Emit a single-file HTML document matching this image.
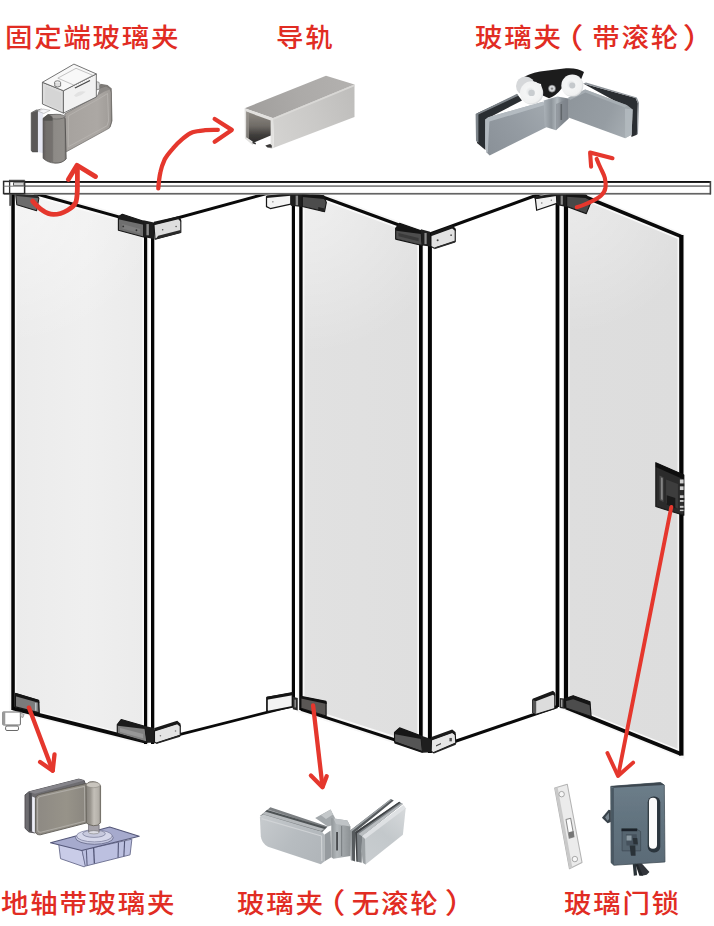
<!DOCTYPE html>
<html lang="zh-CN">
<head>
<meta charset="utf-8">
<title>折叠玻璃门五金配件示意图</title>
<style>
html,body{margin:0;padding:0;background:#fff;}
body{width:714px;height:926px;overflow:hidden;position:relative;font-family:"Liberation Sans","Noto Sans CJK SC",sans-serif;}
svg{position:absolute;left:0;top:0;display:block;}
.lbl{font-family:"Liberation Sans","Noto Sans CJK SC",sans-serif;font-weight:500;font-size:27.5px;letter-spacing:1.7px;fill:#e12c23;}
</style>
</head>
<body>
<svg width="714" height="926" viewBox="0 0 714 926">
<defs>
<linearGradient id="gp1" x1="0" y1="0" x2="1" y2="0"><stop offset="0" stop-color="#ebebeb"/><stop offset="0.55" stop-color="#efefef"/><stop offset="1" stop-color="#ebebeb"/></linearGradient>
<linearGradient id="gp3" x1="0" y1="0" x2="1" y2="0"><stop offset="0" stop-color="#e1e1e1"/><stop offset="1" stop-color="#dfdfdf"/></linearGradient>
<linearGradient id="gp5" x1="0" y1="0" x2="1" y2="0"><stop offset="0" stop-color="#dedede"/><stop offset="1" stop-color="#dddddd"/></linearGradient>
<radialGradient id="gt1" gradientUnits="userSpaceOnUse" cx="13" cy="195" r="150"><stop offset="0" stop-color="#fff" stop-opacity="0.5"/><stop offset="1" stop-color="#fff" stop-opacity="0"/></radialGradient><radialGradient id="gt3" gradientUnits="userSpaceOnUse" cx="301" cy="195" r="160"><stop offset="0" stop-color="#fff" stop-opacity="0.5"/><stop offset="1" stop-color="#fff" stop-opacity="0"/></radialGradient><radialGradient id="gt5" gradientUnits="userSpaceOnUse" cx="566" cy="195" r="140"><stop offset="0" stop-color="#fff" stop-opacity="0.4"/><stop offset="1" stop-color="#fff" stop-opacity="0"/></radialGradient>
<filter id="b1" x="-5%" y="-5%" width="110%" height="110%"><feGaussianBlur stdDeviation="0.5"/></filter>
<filter id="b2" x="-5%" y="-5%" width="110%" height="110%"><feGaussianBlur stdDeviation="0.8"/></filter>
<filter id="pb" x="-5%" y="-5%" width="110%" height="110%"><feGaussianBlur stdDeviation="0.45"/></filter>
</defs>

<!-- ===== DOOR PANELS ===== -->
<g id="door">
<!-- glass fills -->
<polygon points="12.9,187.5 145.6,224.4 145.6,741.7 12.9,708.3" fill="url(#gp1)" stroke="#f7f7f7" stroke-width="7" stroke-linejoin="miter"/>
<polygon points="12.9,187.5 145.6,224.4 145.6,741.7 12.9,708.3" fill="url(#gt1)"/>
<polygon points="300.9,189 420.8,233 420.8,748.2 300.9,709.4" fill="url(#gp3)" stroke="#f7f7f7" stroke-width="7" stroke-linejoin="miter"/>
<polygon points="300.9,189 420.8,233 420.8,748.2 300.9,709.4" fill="url(#gt3)"/>
<polygon points="566,189 681,236.4 681,754 566,707.5" fill="url(#gp5)" stroke="#f7f7f7" stroke-width="7" stroke-linejoin="miter"/>
<polygon points="566,189 681,236.4 681,754 566,707.5" fill="url(#gt5)"/>
<!-- track cover (white) so panel tops hide behind it -->
<rect x="0" y="176" width="714" height="17.5" fill="#fff"/>
<!-- slanted top / bottom edges -->
<g stroke="#0a0a0a" stroke-width="3" fill="none" stroke-linecap="butt">
<line x1="34" y1="193.3" x2="145.6" y2="224.4"/>
<line x1="12.9" y1="708.3" x2="145.6" y2="741.7" stroke-width="3.9"/>
<line x1="152.6" y1="224.7" x2="293.4" y2="186.3"/>
<line x1="152.6" y1="741.3" x2="293.4" y2="705.7" stroke-width="2.8"/>
<line x1="300.9" y1="189" x2="420.8" y2="233"/>
<line x1="300.9" y1="709.4" x2="420.8" y2="748.2"/>
<line x1="429.9" y1="234" x2="557.5" y2="187.5"/>
<line x1="429.9" y1="750" x2="557.5" y2="706.5"/>
<line x1="566" y1="189" x2="681" y2="236.4" stroke-width="3.6"/>
<line x1="566" y1="707.5" x2="681" y2="754" stroke-width="3.8"/>
</g>
<!-- track cover again over lines -->
<rect x="0" y="176" width="714" height="18.6" fill="#fff"/>
<!-- vertical edges -->
<g fill="#050505">
<rect x="11.3" y="194" width="3.5" height="516"/>
<rect x="144" y="221" width="3.2" height="523"/>
<rect x="151" y="223" width="3.3" height="521"/>
<rect x="291.8" y="194" width="3.2" height="511"/>
<rect x="299.2" y="194" width="3.4" height="516"/>
<rect x="419" y="232" width="3.7" height="517"/>
<rect x="427.9" y="233" width="4" height="520"/>
<rect x="555.6" y="194" width="3.8" height="513"/>
<rect x="563.9" y="194" width="4.2" height="514.5"/>
<rect x="679.2" y="235" width="4.3" height="520.6"/>
</g>
</g>

<!-- ===== HINGES / CLAMPS ===== -->
<g id="hinges" stroke-linejoin="round">
<!-- a: top-left fixed clamp -->
<g transform="translate(0,172) scale(0.11204)">
<rect x="84" y="190" width="12" height="112" fill="#2a2a2a"/>
<polygon points="140,200 335,212 347,235 327,345 150,292" fill="#6c6c6c" stroke="#1a1a1a" stroke-width="9"/>
<polygon points="140,200 335,212 347,235 150,215" fill="#2a2a2a"/>
</g>
<!-- b: top hinge panels 1/2 -->
<g transform="translate(110,200) scale(0.11204)">
<polygon points="75,150 110,128 300,190 300,330 75,270" fill="#6f6f6f" stroke="#161616" stroke-width="10"/>
<polygon points="75,150 110,128 300,190 300,222 75,172" fill="#1c1c1c"/>
<polygon points="110,215 270,258 270,300 110,255" fill="#7d7d7d"/>
<circle cx="118" cy="236" r="8" fill="#333"/><circle cx="236" cy="270" r="8" fill="#333"/>
<polygon points="298,180 392,200 392,348 298,330" fill="#1e1e1e"/>
<rect x="325" y="215" width="22" height="100" fill="#8a8a8a"/>
<polygon points="392,215 610,160 632,185 632,290 402,350" fill="#dedede" stroke="#161616" stroke-width="10"/>
<polygon points="392,195 610,146 634,172 634,196 610,172 392,226" fill="#1a1a1a"/>
<polygon points="430,320 630,268 632,292 404,352" fill="#2a2a2a"/>
<circle cx="470" cy="266" r="7" fill="#555"/><circle cx="590" cy="236" r="7" fill="#555"/>
</g>
<!-- c: top hinge panels 2/3 -->
<g transform="translate(260,180) scale(0.11204)">
<polygon points="58,148 275,125 275,215 92,255 58,238" fill="#f4f4f4" stroke="#161616" stroke-width="11"/>
<polygon points="58,138 275,118 275,140 58,160" fill="#1c1c1c"/>
<circle cx="115" cy="195" r="6" fill="#555"/>
<polygon points="275,122 378,126 378,242 275,230" fill="#1e1e1e"/>
<rect x="318" y="140" width="22" height="85" fill="#8a8a8a"/>
<polygon points="378,130 570,142 592,200 576,282 378,236" fill="#4c4c4c" stroke="#161616" stroke-width="10"/>
<polygon points="378,128 570,140 592,200 572,170 378,152" fill="#151515"/>
<polygon points="520,240 575,255 572,285 520,270" fill="#222"/>
</g>
<!-- d: top hinge panels 3/4 -->
<g transform="translate(385,215) scale(0.11204)">
<polygon points="95,120 130,75 322,140 332,272 95,215" fill="#4e4e4e" stroke="#141414" stroke-width="10"/>
<polygon points="95,120 130,75 322,140 322,170 100,140" fill="#151515"/>
<polygon points="120,160 300,205 300,235 120,190" fill="#3a3a3a"/>
<polygon points="320,128 402,150 402,282 332,272" fill="#1e1e1e"/>
<rect x="352" y="160" width="20" height="100" fill="#8a8a8a"/>
<polygon points="410,178 600,108 627,132 627,236 440,297 410,280" fill="#e2e2e2" stroke="#141414" stroke-width="10"/>
<polygon points="410,160 600,92 630,120 630,146 600,120 410,190" fill="#181818"/>
<polygon points="455,285 627,228 627,246 440,305" fill="#2a2a2a"/>
<circle cx="470" cy="225" r="9" fill="#444"/><circle cx="590" cy="180" r="8" fill="#555"/>
</g>
<!-- e: top hinge panels 4/5 -->
<g transform="translate(525,180) scale(0.11204)">
<polygon points="92,165 280,128 285,208 104,270" fill="#f0f0f0" stroke="#141414" stroke-width="11"/>
<polygon points="70,150 280,118 280,142 92,172" fill="#1c1c1c"/>
<circle cx="150" cy="205" r="6" fill="#666"/><circle cx="235" cy="180" r="6" fill="#666"/>
<polygon points="280,122 372,124 372,242 286,226" fill="#1e1e1e"/>
<rect x="318" y="140" width="20" height="80" fill="#8a8a8a"/>
<polygon points="372,128 545,134 592,190 547,300 372,236" fill="#484848" stroke="#141414" stroke-width="10"/>
<polygon points="372,126 545,132 592,190 540,160 372,150" fill="#151515"/>
</g>

<!-- a': bottom-left clamp + floor pivot -->
<g transform="translate(0,685) scale(0.11204)">
<polygon points="137,78 345,140 350,250 137,196" fill="#7b7b7b" stroke="#141414" stroke-width="12"/>
<polygon points="137,70 345,132 352,160 137,100" fill="#151515"/>
<rect x="312" y="160" width="14" height="70" fill="#b8c0c4"/>
<rect x="25" y="240" width="157" height="116" rx="8" fill="#fff" stroke="#6a6a6a" stroke-width="9"/>
<rect x="25" y="240" width="22" height="116" fill="#9a9a9a"/>
<rect x="50" y="366" width="115" height="40" rx="12" fill="#fff" stroke="#555" stroke-width="8"/>
<polygon points="182,250 215,262 205,290 182,282" fill="#ccc" stroke="#777" stroke-width="5"/>
</g>
<!-- b': bottom hinge panels 1/2 -->
<g transform="translate(110,705) scale(0.11204)">
<polygon points="65,175 100,130 310,190 330,335 65,255" fill="#808080" stroke="#141414" stroke-width="10"/>
<polygon points="65,175 100,130 310,190 312,215 70,186" fill="#1a1a1a"/>
<polygon points="90,205 295,258 295,296 90,242" fill="#979797"/>
<polygon points="65,250 330,325 330,342 65,268" fill="#161616"/>
<polygon points="308,188 397,205 397,338 330,338" fill="#1e1e1e"/>
<polygon points="397,228 600,162 627,186 627,270 412,340 397,330" fill="#e4e4e4" stroke="#141414" stroke-width="10"/>
<polygon points="397,205 600,140 630,168 630,196 600,172 397,236" fill="#1a1a1a"/>
<polygon points="420,335 627,266 627,284 412,348" fill="#252525"/>
<circle cx="450" cy="275" r="7" fill="#777"/><circle cx="585" cy="232" r="7" fill="#777"/>
</g>
<!-- c': bottom hinge panels 2/3 -->
<g transform="translate(260,680) scale(0.11204)">
<polygon points="62,158 290,118 290,240 62,285" fill="#f2f2f2" stroke="#111" stroke-width="15"/>
<polygon points="62,150 290,108 290,135 62,176" fill="#151515"/>
<polygon points="293,150 337,160 337,272 293,260" fill="#2a2a2a"/>
<rect x="308" y="175" width="12" height="70" fill="#999"/>
<polygon points="365,150 590,195 590,322 365,252" fill="#5a5755" stroke="#111" stroke-width="10"/>
<polygon points="365,140 590,186 596,215 365,165" fill="#111"/>
</g>
<!-- d': bottom hinge panels 3/4 -->
<g transform="translate(385,715) scale(0.11204)">
<polygon points="85,155 130,115 320,185 335,330 85,240" fill="#555" stroke="#141414" stroke-width="10"/>
<polygon points="85,155 130,115 320,185 322,215 90,172" fill="#161616"/>
<polygon points="85,236 335,322 335,340 85,254" fill="#161616"/>
<polygon points="318,183 412,215 412,332 335,338" fill="#1e1e1e"/>
<polygon points="415,218 600,152 627,172 632,250 430,336 412,322" fill="#e6e6e6" stroke="#141414" stroke-width="10"/>
<polygon points="415,196 600,130 630,155 630,182 600,160 415,228" fill="#1a1a1a"/>
<polygon points="440,332 632,248 632,266 432,346" fill="#252525"/>
<polygon points="455,270 500,250 500,262 455,282" fill="#444"/><rect x="575" y="205" width="22" height="30" fill="#555"/>
</g>
<!-- e': bottom hinge panels 4/5 -->
<g transform="translate(525,680) scale(0.11204)">
<polygon points="68,178 250,110 266,124 266,255 100,305 68,290" fill="#dcdcdc" stroke="#141414" stroke-width="10"/>
<polygon points="68,168 250,96 268,114 268,146 250,132 68,200" fill="#1a1a1a"/>
<polygon points="68,178 100,190 100,305 68,290" fill="#555"/>
<polygon points="310,160 352,165 352,257 310,250" fill="#2a2a2a"/>
<rect x="322" y="175" width="12" height="65" fill="#aaa"/>
<polygon points="360,165 430,140 580,195 590,325 365,250" fill="#4c4c4c" stroke="#141414" stroke-width="10"/>
<polygon points="360,165 430,140 580,195 584,228 430,172 362,190" fill="#151515"/>
</g>
</g>

<!-- ===== TRACK ===== -->
<g id="track">
<rect x="4" y="181" width="707" height="1.9" fill="#111"/>
<rect x="4" y="185.3" width="707" height="1.6" fill="#787878"/>
<rect x="4" y="192.9" width="707" height="1.7" fill="#646464"/>
<rect x="709.6" y="181" width="1.6" height="13.4" fill="#444"/>
<rect x="3.6" y="181.4" width="21" height="12.2" fill="#fff" stroke="#2a2a2a" stroke-width="1.5"/>
<line x1="9.6" y1="180.5" x2="9.6" y2="193.6" stroke="#333" stroke-width="1.3"/>
<line x1="3.6" y1="186.2" x2="24.6" y2="186.2" stroke="#777" stroke-width="1"/>
<rect x="13.5" y="182.8" width="10.5" height="2.4" fill="#fff" stroke="#444" stroke-width="0.9"/>
<path d="M9,180.3 H24.8" stroke="#333" stroke-width="1" fill="none"/>
</g>

<!--PRODUCTS-->
<!-- ===== PRODUCT 1: fixed-end glass clamp ===== -->
<g id="prod1" filter="url(#pb)"><g transform="translate(20,55) scale(0.14006)" stroke-linejoin="round">
<defs>
<linearGradient id="p1cyl" x1="0" y1="0" x2="1" y2="0"><stop offset="0" stop-color="#5e5b59"/><stop offset="0.12" stop-color="#716e6b"/><stop offset="0.4" stop-color="#75726f"/><stop offset="0.46" stop-color="#8d8a86"/><stop offset="0.9" stop-color="#918e8a"/><stop offset="1" stop-color="#726f6c"/></linearGradient>
<linearGradient id="p1plate" x1="0" y1="0" x2="1" y2="0"><stop offset="0" stop-color="#a6a29e"/><stop offset="0.7" stop-color="#aca8a4"/><stop offset="1" stop-color="#9f9b97"/></linearGradient>
</defs>
<!-- back edge of plate -->
<polygon points="548,250 575,205 625,215 655,240 660,470 648,510 640,520 640,260 600,235" fill="#7d7a77"/>
<!-- main plate -->
<polygon points="320,420 555,290 572,240 615,225 645,245 652,270 652,480 638,522 332,690 320,680" fill="url(#p1plate)" stroke="#6e6b68" stroke-width="5"/>
<polygon points="345,435 560,315 625,275 632,470 622,505 345,655" fill="none" stroke="#b8b4b0" stroke-width="6"/>
<polygon points="555,290 572,240 615,225 645,245 600,262" fill="#8d8a87"/>
<!-- stud behind box -->
<polygon points="545,190 565,195 570,240 548,250" fill="#d8d8d8" stroke="#666" stroke-width="4"/>
<!-- left dark plate -->
<polygon points="80,412 118,392 128,396 128,692 88,692 80,680" fill="#5a5958" stroke="#444" stroke-width="4"/>
<polygon points="80,412 118,392 160,380 128,400" fill="#777"/>
<!-- white strip (glass) -->
<polygon points="128,400 165,386 168,702 128,692" fill="#e6e8f3"/>
<polygon points="128,400 165,386 215,395 170,418" fill="#f4f4f8" stroke="#888" stroke-width="3"/>
<!-- cylinder -->
<path d="M165,452 L200,425 L290,428 L322,452 L330,742 Q300,775 250,772 Q200,770 165,738 Z" fill="url(#p1cyl)" stroke="#454342" stroke-width="5"/>

<ellipse cx="262" cy="440" rx="58" ry="17" fill="#9a9794" stroke="#555" stroke-width="4"/>
<polygon points="165,452 200,425 232,440 232,470 165,470" fill="#565453"/>
<!-- box -->
<polygon points="160,195 310,255 310,415 160,350" fill="#dcdcdc" stroke="#5a5a5a" stroke-width="6"/>
<polygon points="310,255 545,135 545,300 310,415" fill="#f1f1f1" stroke="#5a5a5a" stroke-width="6"/>
<polygon points="160,195 385,65 545,135 310,255" fill="#f8f8f8" stroke="#5a5a5a" stroke-width="6"/>
<polygon points="180,225 295,270 295,395 180,345" fill="#cfcfcf" opacity="0.55"/>
<polygon points="270,165 400,95 520,145 385,215" fill="none" stroke="#999" stroke-width="4"/>
<ellipse cx="268" cy="198" rx="22" ry="14" fill="#eee" stroke="#555" stroke-width="5"/>
<path d="M248,198 L248,222 Q268,236 290,222 L290,198" fill="#ddd" stroke="#555" stroke-width="5"/>
<line x1="392" y1="236" x2="500" y2="182" stroke="#444" stroke-width="8"/>
<path d="M385,290 Q420,250 470,262 Q440,290 400,300 Z" fill="#e2e2e2"/>
</g></g>
<!-- ===== PRODUCT 2: rail ===== -->
<g id="prod2" filter="url(#pb)" stroke-linejoin="round">
<defs>
<linearGradient id="p2top" x1="245" y1="108" x2="354" y2="84" gradientUnits="userSpaceOnUse"><stop offset="0" stop-color="#a09e9c"/><stop offset="0.5" stop-color="#acaaa8"/><stop offset="1" stop-color="#b3b1af"/></linearGradient>
<linearGradient id="p2side" x1="273" y1="130" x2="354" y2="100" gradientUnits="userSpaceOnUse"><stop offset="0" stop-color="#d3d2d0"/><stop offset="0.5" stop-color="#cac9c7"/><stop offset="1" stop-color="#bfbebc"/></linearGradient>
<linearGradient id="p2in" x1="0" y1="112" x2="0" y2="143" gradientUnits="userSpaceOnUse"><stop offset="0" stop-color="#8e8a84"/><stop offset="0.45" stop-color="#6f6b66"/><stop offset="0.75" stop-color="#3f3d3b"/><stop offset="1" stop-color="#2c2b2a"/></linearGradient>
</defs>
<polygon points="273,118.1 354.5,84.5 354.5,117 273.9,147.8" fill="url(#p2side)"/>
<polygon points="244.7,108.2 326,75.7 354.5,84.5 272.8,118.3" fill="url(#p2top)"/>
<polygon points="273,118.1 354.5,84.5 354.5,86.2 273,120" fill="#dddcda" opacity="0.8"/>
<!-- front frame -->
<polygon points="244.6,108.2 273,118.1 273.9,147.8 271.3,149 265.2,146 270.6,143.6 270.6,121 246.2,112 246.4,137.5 254,143.6 252.5,145 244.9,138.5" fill="#e2e1df"/>
<polygon points="246.2,111.6 270.7,120.4 270.7,135.4 254,142.4 246.4,137.2" fill="url(#p2in)"/>
<polygon points="246.2,111.6 249,112.6 249,138.9 246.4,137.2" fill="#9a9690" opacity="0.7"/>
<polygon points="265.3,145.6 270.2,143.9 271.8,145.4 271.8,147.8 267.5,147.4" fill="#3a3938"/>
<polygon points="252.5,141.5 256,143 255.5,144.6 252.5,143.3" fill="#333"/>
</g>
<!-- ===== PRODUCT 3: glass clamp with rollers ===== -->
<g id="prod3" filter="url(#pb)" stroke-linejoin="round">
<defs>
<linearGradient id="p3l" x1="486" y1="150" x2="546" y2="104" gradientUnits="userSpaceOnUse"><stop offset="0" stop-color="#8a9198"/><stop offset="0.5" stop-color="#949ba2"/><stop offset="1" stop-color="#a2a9af"/></linearGradient>
<linearGradient id="p3r" x1="570" y1="100" x2="632" y2="130" gradientUnits="userSpaceOnUse"><stop offset="0" stop-color="#8f969c"/><stop offset="0.6" stop-color="#969da3"/><stop offset="1" stop-color="#a8afb4"/></linearGradient>
<linearGradient id="p3c" x1="544" y1="0" x2="568" y2="0" gradientUnits="userSpaceOnUse"><stop offset="0" stop-color="#aab1b7"/><stop offset="0.3" stop-color="#8d949a"/><stop offset="0.55" stop-color="#b3babf"/><stop offset="0.75" stop-color="#8a9197"/><stop offset="1" stop-color="#7b8288"/></linearGradient>
<radialGradient id="p3w" cx="0.45" cy="0.45" r="0.6"><stop offset="0" stop-color="#d9dcde"/><stop offset="0.35" stop-color="#f4f5f5"/><stop offset="0.8" stop-color="#f0f1f1"/><stop offset="1" stop-color="#c9cccf"/></radialGradient>
</defs>
<!-- right wing: back plates -->
<polygon points="583.1,83.4 635.6,98.1 637.9,103.3 636.9,134.8 631.4,137 631.4,110" fill="#2c2e31"/>
<polygon points="586,82.6 636.8,97.4 639,102.8 638,134 636.9,134.8 637.7,103.3 635.6,98.1 583.1,83.4" fill="#8b9197"/>
<!-- left wing: back plate + rubber -->
<polygon points="476.6,113.4 517.4,94.6 522,100.6 485.4,119.5 485.4,150 477,143" fill="#2b2d30"/>
<polygon points="475.6,114 517,93.8 518.3,95.7 478.4,114.4 478.4,142.8 476,141" fill="#7c8389"/>
<!-- left wing front plate -->
<polygon points="485.4,119.5 488.2,117.2 542.8,101.8 545.6,104.8 546.3,127.2 489.6,155.4 486.6,152.6 485.1,144" fill="url(#p3l)"/>
<polygon points="485.4,119.5 488.2,117.2 542.8,101.8 545.6,104.8 489.4,121.6 487.8,152.6 486.6,152.6 485.1,144" fill="#b9c0c5" opacity="0.85"/>
<!-- right wing front plate -->
<polygon points="568.5,97.6 585.2,89.5 627.2,105.2 632.7,109.6 631.6,134.8 625.1,138.2 568.5,117.6" fill="url(#p3r)"/>
<polygon points="625,108.5 632.7,109.6 631.6,134.8 625.1,138.2" fill="#b4bbc0" opacity="0.8"/>
<polygon points="568.5,97.6 585.2,89.5 627.2,105.2 625,107.6 585.4,92.6 570,100" fill="#aab1b7" opacity="0.8"/>
<!-- center block -->
<polygon points="543.6,100.4 557.4,96.4 568.6,98.6 568.6,118.4 556,130.2 544.8,126.8" fill="url(#p3c)"/>
<polygon points="556,104 568.6,98.6 568.6,118.4 556,130.2" fill="#7d848a" opacity="0.55"/>
<rect x="560.5" y="104" width="1.6" height="16" fill="#60666b"/>
<!-- black bracket -->
<path d="M521,79 Q528,73.5 540,71.5 L566,68.2 Q578,67.6 584,72 L580,82 L562,88 Q556,96 549,98.2 L542.8,95.4 L541,84 Z" fill="#1c1c1e"/>
<!-- back roller (left, behind) -->
<circle cx="525.5" cy="86" r="9.5" fill="#d6d8da"/>
<!-- rollers -->
<circle cx="531.6" cy="92.9" r="11.6" fill="url(#p3w)"/>
<circle cx="531.6" cy="92.9" r="3.2" fill="#c9cdd0"/>
<circle cx="572.3" cy="85.6" r="11" fill="url(#p3w)"/>
<circle cx="572.3" cy="85.6" r="3" fill="#c5c9cc"/>
<circle cx="552" cy="88.6" r="3.6" fill="#d4d6d8" stroke="#555" stroke-width="0.6"/>
<circle cx="552" cy="88.6" r="1.2" fill="#888"/>
</g>
<!-- ===== PRODUCT 4: floor pivot glass clamp ===== -->
<g id="prod4" filter="url(#pb)"><g transform="translate(15,770) scale(0.18207)" stroke-linejoin="round">
<defs>
<linearGradient id="p4pin" x1="0" y1="0" x2="1" y2="0"><stop offset="0" stop-color="#86827c"/><stop offset="0.3" stop-color="#9a968f"/><stop offset="0.55" stop-color="#c3bfb8"/><stop offset="0.85" stop-color="#b5b1aa"/><stop offset="1" stop-color="#8e8a84"/></linearGradient>
<linearGradient id="p4pl" x1="0" y1="0" x2="1" y2="0"><stop offset="0" stop-color="#8d8983"/><stop offset="0.6" stop-color="#979389"/><stop offset="1" stop-color="#8a867f"/></linearGradient>
</defs>
<!-- base box -->
<polygon points="240,405 368,440 388,525 380,532 250,487" fill="#c9cce8" stroke="#6a6d8e" stroke-width="5"/>
<polygon points="368,440 642,380 632,466 386,528" fill="#bcc0e0" stroke="#6a6d8e" stroke-width="5"/>
<line x1="432" y1="428" x2="436" y2="514" stroke="#4f5273" stroke-width="7"/>
<line x1="568" y1="398" x2="566" y2="482" stroke="#4f5273" stroke-width="6"/>
<line x1="602" y1="390" x2="598" y2="474" stroke="#4f5273" stroke-width="6"/>
<line x1="392" y1="440" x2="396" y2="524" stroke="#5a5d7e" stroke-width="6"/>
<!-- base top plate -->
<polygon points="195,400 520,313 682,364 366,442" fill="#a6aacd" stroke="#55587a" stroke-width="6"/>
<!-- disc -->
<ellipse cx="436" cy="372" rx="104" ry="36" fill="#c4c7df" stroke="#6d7090" stroke-width="5"/>
<ellipse cx="436" cy="362" rx="98" ry="33" fill="#d5d7ea" stroke="#7b7e9c" stroke-width="4"/>
<ellipse cx="434" cy="350" rx="62" ry="20" fill="#c7c9dd" stroke="#777a98" stroke-width="4"/>
<!-- neck -->
<polygon points="404,296 462,302 462,342 404,340" fill="#a4a1a8" stroke="#6b6870" stroke-width="4"/>
<ellipse cx="433" cy="342" rx="29" ry="9" fill="#dcdce4" stroke="#777" stroke-width="3"/>
<!-- back plate -->
<polygon points="55,137 76,120 350,50 380,58 386,76 130,137 110,152 110,346 76,340 55,320" fill="#6d6c70" stroke="#4d4c50" stroke-width="5"/>
<polygon points="76,124 92,128 92,338 76,336" fill="#4a4a50"/>
<polygon points="94,146 110,152 110,344 94,338" fill="#ecedf6"/>
<polygon points="76,120 350,50 380,58 110,130" fill="#85848a"/>
<!-- front plate -->
<path d="M112,156 Q114,140 132,135 L392,74 L396,290 L138,356 Q114,356 112,338 Z" fill="url(#p4pl)" stroke="#5f5b56" stroke-width="5"/>
<path d="M124,160 Q126,148 138,146 L382,90 L384,282 L142,342 Q126,342 124,330 Z" fill="none" stroke="#aeaba5" stroke-width="6"/>
<!-- pin -->
<path d="M390,88 Q394,66 420,64 Q458,62 470,88 L470,290 Q456,308 430,306 Q400,302 392,290 Z" fill="url(#p4pin)" stroke="#6a665f" stroke-width="5"/>
<ellipse cx="430" cy="82" rx="38" ry="15" fill="#c9c5be" stroke="#8a867f" stroke-width="3"/>
</g></g>
<!-- ===== PRODUCT 5: glass clamp without rollers ===== -->
<g id="prod5" filter="url(#pb)" stroke-linejoin="round">
<defs>
<linearGradient id="p5l" x1="262" y1="818" x2="322" y2="862" gradientUnits="userSpaceOnUse"><stop offset="0" stop-color="#c6cacd"/><stop offset="0.5" stop-color="#b7bcc0"/><stop offset="1" stop-color="#b0b5b9"/></linearGradient>
<linearGradient id="p5r" x1="364" y1="860" x2="404" y2="808" gradientUnits="userSpaceOnUse"><stop offset="0" stop-color="#c9cdd0"/><stop offset="0.5" stop-color="#c3c8cb"/><stop offset="1" stop-color="#d6d9db"/></linearGradient>
<linearGradient id="p5c" x1="331" y1="0" x2="351" y2="0" gradientUnits="userSpaceOnUse"><stop offset="0" stop-color="#8f9497"/><stop offset="0.3" stop-color="#b3b8bb"/><stop offset="0.6" stop-color="#a1a6a9"/><stop offset="1" stop-color="#8b9093"/></linearGradient>
</defs>
<!-- left clamp top/back -->
<polygon points="259.9,815.9 270.4,807.3 327.8,826.4 322.2,832.2" fill="#7b7f82"/>
<polygon points="262.5,814 268,809.5 325.5,828 321,831" fill="#b4b8bb"/>
<polygon points="265,811.6 267.2,810 326.6,827.4 324.5,829" fill="#4e5254"/>
<!-- connector -->
<polygon points="315.2,818 330.6,809.4 335,818 333.4,825 327.8,826.4" fill="#a3a8ab"/>
<polygon points="321,815.2 330.6,809.4 333,814.5 326,819" fill="#c4c8ca"/>
<!-- center block -->
<polygon points="331.3,818 347.4,820.6 350.4,826.4 350.4,856 333.4,858.8 331.3,857.2" fill="url(#p5c)"/>
<polygon points="333.5,818.4 347.4,820.6 350.4,826.4 336,824" fill="#bfc3c6"/>
<rect x="336.2" y="832" width="1.7" height="18.5" fill="#3e4144"/>
<rect x="341" y="826" width="1.2" height="30" fill="#7e8386"/>
<!-- left side face + front plate -->
<polygon points="324.3,834.8 330.6,830.4 331.3,857.2 324.3,861.6" fill="#969b9f"/>
<path d="M259.9,817.5 Q260.2,815.6 263.4,814.5 L322.2,832 L324.3,834.8 L324.3,861.4 L320.8,864.2 L268,846.8 Q261.5,843 260.8,836.2 Z" fill="url(#p5l)"/>
<path d="M261.6,818.6 L321.5,836 L321.8,861" fill="none" stroke="#d4d7d9" stroke-width="1.2" opacity="0.8"/>
<!-- right clamp back plates -->
<polygon points="350.2,830.6 390.8,798.9 393.8,800.5 355.1,832 355.1,861.4 350.9,860" fill="#565a5d"/>
<polygon points="350.2,830.6 390.8,798.9 392,799.6 351.8,831.4 352.2,860.4 350.9,860" fill="#9ea3a6"/>
<polygon points="355.1,832 399.2,801.7 402.9,804 362.1,836.2 361.7,862.8 356.5,861.4" fill="#7a7f83"/>
<polygon points="355.1,832 399.2,801.7 400.4,802.5 357,833.2 357.6,861.8 356.5,861.4" fill="#3f4345"/>
<polygon points="358.5,834 401.6,803.2 402.9,804 362.1,836.2" fill="#b9bdc0"/>
<!-- right front plate -->
<polygon points="362.1,836.2 403.4,805.2 405.7,808.2 402.9,834.8 365.6,864.4 362.8,862.8 361.7,851.6" fill="url(#p5r)"/>
<polygon points="362.1,836.2 403.4,805.2 405.7,808.2 365,839" fill="#e2e4e6" opacity="0.85"/>
<polygon points="362.1,836.2 365,839 365.6,864.4 362.8,862.8 361.7,851.6" fill="#9da2a5"/>
</g>
<!-- ===== PRODUCT 6: glass door lock + strike plate ===== -->
<g id="prod6" filter="url(#pb)">
<g transform="translate(540,770) scale(0.21008)" stroke-linejoin="round">
<polygon points="70,86 130,68 200,440 140,470" fill="#ebebeb" stroke="#b4b4b4" stroke-width="5"/>
<polygon points="70,86 84,82 154,464 140,470" fill="#c9c9c9"/>
<circle cx="103" cy="115" r="13" fill="#f6f6f6" stroke="#9a9a9a" stroke-width="4"/>
<circle cx="166" cy="424" r="13" fill="#f6f6f6" stroke="#9a9a9a" stroke-width="4"/>
<polygon points="124,236 146,230 162,318 139,325" fill="#fdfdfd" stroke="#8e8e8e" stroke-width="5"/>
<polygon points="136,296 160,290 162,318 139,325" fill="#777"/>
</g>
<g transform="translate(595,775) scale(0.12605)" stroke-linejoin="round">
<defs><linearGradient id="p6b" x1="0" y1="0" x2="0" y2="1"><stop offset="0" stop-color="#6d7e8a"/><stop offset="0.5" stop-color="#61727e"/><stop offset="1" stop-color="#5b6b77"/></linearGradient></defs>
<!-- latch -->
<polygon points="55,340 108,275 126,280 126,372 100,382" fill="#39424a"/>
<polygon points="80,335 110,300 112,350 98,362" fill="#78858f"/>
<!-- keys -->
<polygon points="290,600 318,600 334,795 308,800" fill="#2c3237"/>
<polygon points="330,690 352,680 432,770 410,792 372,800" fill="#30363b"/>
<polygon points="318,700 338,700 380,800 352,800" fill="#20252a"/>
<!-- body -->
<polygon points="125,90 520,60 550,80 555,690 150,716 128,696" fill="url(#p6b)" stroke="#3e4a53" stroke-width="6"/>
<polygon points="125,90 520,60 550,80 150,102" fill="#3c4750"/>
<polygon points="128,100 150,102 150,716 128,696" fill="#4a5863"/>
<!-- slot -->
<rect x="418" y="170" width="100" height="445" rx="46" fill="#2c353c"/>
<rect x="428" y="180" width="64" height="405" rx="32" fill="#fbfbfb"/>
<!-- lower block -->
<polygon points="215,432 335,432 362,448 362,602 215,602" fill="#566570" stroke="#3a444c" stroke-width="5"/>
<rect x="210" y="424" width="125" height="22" fill="#1e2429"/>
<polygon points="245,470 330,470 340,560 250,560" fill="#44515b"/>
<polygon points="250,480 290,480 290,520 250,520" fill="#8b98a1"/>
<polygon points="300,500 335,500 340,550 305,550" fill="#2a3238"/>
<polygon points="275,560 320,560 322,640 285,640" fill="#2b3339"/>
</g>
</g>
<!--/PRODUCTS-->
<!-- ===== DOOR LOCK (on panel 5) ===== -->
<g id="doorlock" transform="translate(620,440) scale(0.13165)">
<polygon points="272,172 485,266 485,572 272,506" fill="#2b2b2b" stroke="#151515" stroke-width="8" stroke-linejoin="round"/>
<polygon points="272,172 485,266 485,300 272,205" fill="#0e0e0e"/>
<polygon points="300,270 330,282 330,470 300,455" fill="#4a4a4a"/>
<polygon points="312,285 324,290 324,455 312,450" fill="#8a8a8a"/>
<polygon points="350,300 440,335 440,520 350,480" fill="#3d3d3d"/>
<polygon points="355,420 420,440 420,520 355,490" fill="#1a1a1a"/>
<rect x="455" y="300" width="28" height="80" fill="#d0d0d0"/><rect x="455" y="420" width="28" height="50" fill="#cfcfcf"/><rect x="455" y="500" width="28" height="40" fill="#c8c8c8"/>
<rect x="450" y="330" width="38" height="22" fill="#222"/><rect x="450" y="440" width="38" height="16" fill="#222"/><rect x="450" y="515" width="38" height="14" fill="#222"/>
</g>

<!-- ===== RED ARROWS ===== -->
<g id="arrows" fill="none" stroke="#e5372d" stroke-width="4.3" stroke-linecap="round" stroke-linejoin="round">
<path d="M32.6,201.1 C36,205 39,208 42.4,210.2 C46,212.8 49.5,214.4 53.6,214.4 C58.5,214.4 63.5,212.6 67.6,210.2 C71.8,207.8 74.8,205.5 76,201.8 C77.4,197 77.4,191 77.4,185 L77.4,166.5" stroke-width="4.8"/>
<path d="M68.3,179.4 L77,165.2 L95.6,176.6" stroke-width="4.8"/>
<path d="M158.3,188.3 C158.8,182 159.3,177 160.4,172.2 C161.3,167.5 162.8,163.5 164.6,159.6 C166.8,155.3 169.8,152 173,148.4 C176,144.8 179.3,141.5 182.8,138.6 C185.8,136 189,133.6 192.6,132.3 C196.5,130.9 201,130.6 205.2,130.2 C209.4,129.8 213.6,129.7 217.8,129.9"/>
<path d="M214.7,119 L231.8,129.9 L214.7,141.7"/>
<path d="M576.8,207.2 C580.5,206.3 584.3,204.8 588,203 C592.5,201 597.3,199 600.6,196 C603.2,193.6 605,191 605.5,187.6 C606,184.3 605.6,181 604.8,177.8 C603.9,174.3 602,171.2 600.6,168 C599.2,165 597.9,162 596.7,158.9" stroke-width="4.1"/>
<path d="M591.1,166.6 L590.1,152.5 L612.5,158.2" stroke-width="4.1"/>
<path d="M28.9,707.6 L52.7,770.6"/>
<path d="M40.1,762 L52.7,770.8 L54.5,754.5"/>
<path d="M313.1,705.5 L322.5,786.5"/>
<path d="M310.9,775.5 L322.5,787.2 L326.7,776.2"/>
<path d="M671.3,507 L618.3,774.8" stroke-width="3.9"/>
<path d="M607.4,753 L618,776 L633.1,762.6" stroke-width="3.9"/>
</g>

<!-- ===== LABELS ===== -->
<g id="labels" class="lbl">
<text transform="translate(5,46.8) scale(1,0.935)">固定端玻璃夹</text>
<text transform="translate(276,46.8) scale(1,0.935)">导轨</text>
<text transform="translate(475,46.8) scale(1,0.935)">玻璃夹</text><text transform="translate(551,48.8) scale(1.18,1.03)">（</text><text transform="translate(592.3,46.8) scale(1,0.935)">带滚轮</text><text transform="translate(682.7,48.8) scale(1.18,1.03)">）</text>
<text transform="translate(1,912.7) scale(1,0.935)">地轴带玻璃夹</text>
<text transform="translate(237,912.7) scale(1,0.935)">玻璃夹</text><text transform="translate(313,913.6) scale(1.18,1.03)">（</text><text transform="translate(351.8,912.7) scale(1,0.935)">无滚轮</text><text transform="translate(444.7,913.6) scale(1.18,1.03)">）</text>
<text transform="translate(564,912.7) scale(1,0.935)">玻璃门锁</text>
</g>
</svg>
</body>
</html>
